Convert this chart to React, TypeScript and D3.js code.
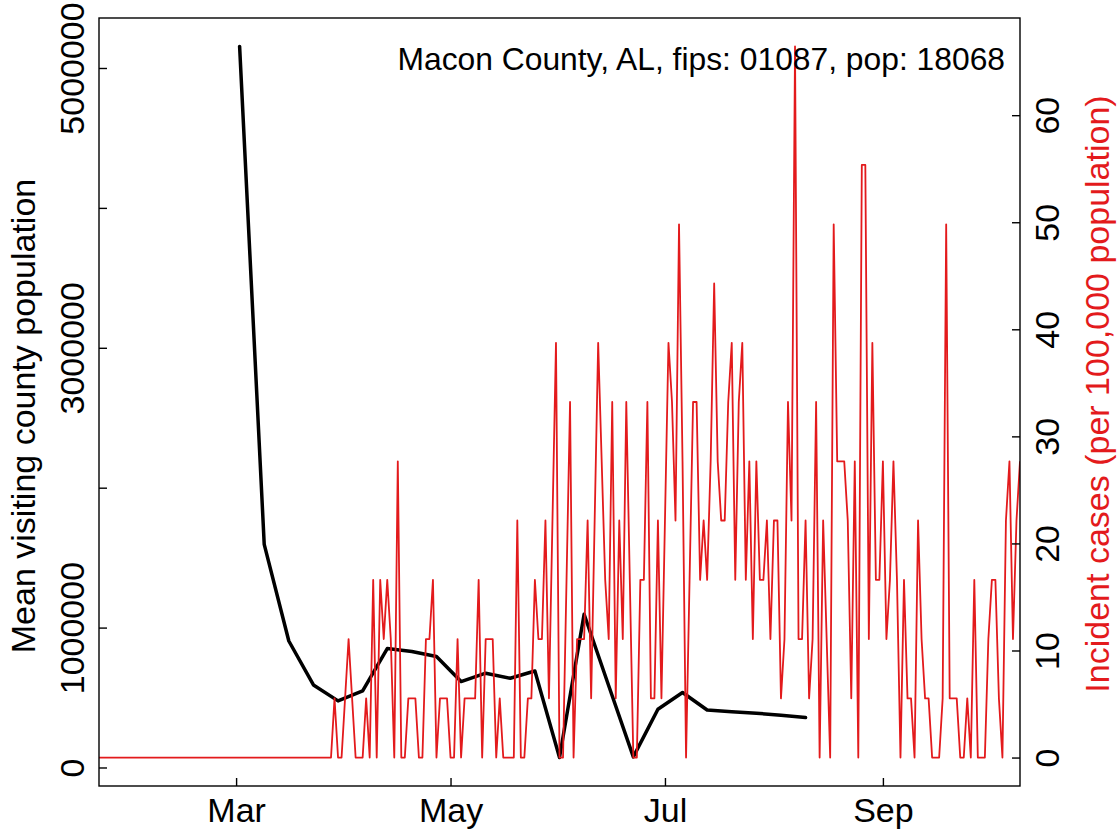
import { useRef, useEffect } from 'react';
import * as d3 from 'd3';

const W = 1119;
const H = 830;
const FONT = "'Liberation Sans', Arial, Helvetica, sans-serif";
const RED = '#e31a1c';

const countyLabel = 'Macon County, AL, fips: 01087, pop: 18068';
const leftTitle = 'Mean visiting county population';
const rightTitle = 'Incident cases (per 100,000 population)';

// weekly mean visiting county population, first week starts Mon 2 Mar 2020
const visitStart = '2020-03-02';
const visitPop = [
  5154000, 1595000, 904000, 590000, 476000, 547000, 850000, 829000, 793000, 614000,
  674000, 638000, 690000, 71000, 1095000, 584000, 76000, 416000, 536000, 411000,
  399000, 388000, 374000, 357000,
];

// daily incident cases per 100k, starting 22 Jan 2020
const caseStart = '2020-01-22';
const incidence = [
  0, 0, 0, 0, 0, 0, 0, 0, 0, 0,
  0, 0, 0, 0, 0, 0, 0, 0, 0, 0,
  0, 0, 0, 0, 0, 0, 0, 0, 0, 0,
  0, 0, 0, 0, 0, 0, 0, 0, 0, 0,
  0, 0, 0, 0, 0, 0, 0, 0, 0, 0,
  0, 0, 0, 0, 0, 0, 0, 0, 0, 0,
  0, 0, 0, 0, 0, 0, 0,
  5.53, 0, 0, 5.53, 11.07, 5.53, 0, 0, 0, 5.53,
  0, 16.6, 0, 16.6, 11.07, 16.6, 11.07, 0, 27.67, 0,
  0, 5.53, 5.53, 5.53, 0, 0, 11.07, 11.07, 16.6, 0,
  5.53, 5.53, 5.53, 0, 0, 11.07, 0, 5.53, 5.53, 5.53,
  5.53, 16.6, 0, 11.07, 11.07, 11.07, 0, 5.53, 0, 0,
  0, 0, 22.14, 0, 0, 5.53, 5.53, 16.6, 11.07, 11.07,
  22.14, 5.53, 22.14, 38.74, 0, 0, 16.6, 33.21, 0, 11.07,
  11.07, 11.07, 22.14, 5.53, 22.14, 38.74, 27.67, 16.6, 11.07, 33.21,
  5.53, 22.14, 11.07, 33.21, 16.6, 0, 0, 16.6, 16.6, 33.21,
  5.53, 5.53, 22.14, 5.53, 22.14, 38.74, 33.21, 22.14, 49.81, 27.67,
  0, 16.6, 33.21, 33.21, 16.6, 22.14, 16.6, 27.67, 44.28, 27.67,
  22.14, 22.14, 33.21, 38.74, 16.6, 33.21, 38.74, 16.6, 27.67, 11.07,
  27.67, 16.6, 16.6, 22.14, 11.07, 22.14, 22.14, 5.53, 11.07, 33.21,
  22.14, 66.42, 11.07, 11.07, 22.14, 5.53, 11.07, 33.21, 0, 22.14,
  11.07, 0, 49.81, 27.67, 27.67, 27.67, 22.14, 5.53, 27.67, 0,
  55.35, 55.35, 11.07, 38.74, 16.6, 16.6, 27.67, 11.07, 16.6, 27.67,
  16.6, 0, 16.6, 5.53, 5.53, 0, 22.14, 11.07, 5.53, 5.53,
  0, 0, 0, 5.53, 49.81, 5.53, 5.53, 5.53, 0, 0,
  5.53, 0, 16.6, 0, 0, 0, 11.07, 16.6, 16.6, 5.53,
  0, 22.14, 27.67, 11.07, 22.14, 27.67,
];

const leftTicks = [0, 1000000, 2000000, 3000000, 4000000, 5000000];
const leftTickLabels = ['0', '1000000', '', '3000000', '', '5000000'];
const rightTicks = [0, 10, 20, 30, 40, 50, 60];
const monthTicks = ['2020-03-01', '2020-05-01', '2020-07-01', '2020-09-01'];
const monthLabels = ['Mar', 'May', 'Jul', 'Sep'];

// R-style 4% axis padding
const padExtent = ([a, b]: [number, number]): [number, number] => {
  const r = b - a;
  return [a - 0.04 * r, b + 0.04 * r];
};

export default function App() {
  const svgRef = useRef<SVGSVGElement>(null);

  useEffect(() => {
    if (!svgRef.current) return;
    const svg = d3.select(svgRef.current);
    svg.selectAll('*').remove();

    const margin = { top: 18, right: 99, bottom: 44, left: 99 };
    const w = W - margin.left - margin.right;
    const h = H - margin.top - margin.bottom;
    const parse = d3.utcParse('%Y-%m-%d');

    const caseData = incidence.map((v, i) => ({ date: d3.utcDay.offset(parse(caseStart)!, i), v }));
    const visitData = visitPop.map((v, i) => ({ date: d3.utcWeek.offset(parse(visitStart)!, i), v }));

    const x = d3
      .scaleUtc()
      .domain(d3.extent(caseData, (d) => d.date) as [Date, Date])
      .range([0, w]);
    const yL = d3
      .scaleLinear()
      .domain(padExtent(d3.extent(visitPop) as [number, number]))
      .range([h, 0]);
    const yR = d3
      .scaleLinear()
      .domain(padExtent(d3.extent(incidence) as [number, number]))
      .range([h, 0]);

    const g = svg.append('g').attr('transform', `translate(${margin.left},${margin.top})`);

    g.append('clipPath').attr('id', 'plot-clip').append('rect').attr('width', w).attr('height', h);

    const plot = g.append('g').attr('clip-path', 'url(#plot-clip)');

    plot
      .append('path')
      .datum(visitData)
      .attr('fill', 'none')
      .attr('stroke', '#000')
      .attr('stroke-width', 3.5)
      .attr('stroke-linejoin', 'round')
      .attr('stroke-linecap', 'round')
      .attr(
        'd',
        d3
          .line<{ date: Date; v: number }>()
          .x((d) => x(d.date))
          .y((d) => yL(d.v))
      );

    plot
      .append('path')
      .datum(caseData)
      .attr('fill', 'none')
      .attr('stroke', RED)
      .attr('stroke-width', 1.8)
      .attr('stroke-linejoin', 'round')
      .attr(
        'd',
        d3
          .line<{ date: Date; v: number }>()
          .x((d) => x(d.date))
          .y((d) => yR(d.v))
      );

    g.append('rect')
      .attr('width', w)
      .attr('height', h)
      .attr('fill', 'none')
      .attr('stroke', '#000')
      .attr('stroke-width', 1.4);

    const styleAxis = (sel: d3.Selection<SVGGElement, unknown, null, undefined>) => {
      sel.select('.domain').remove();
      sel.selectAll('line').attr('stroke', '#000').attr('stroke-width', 1.4);
      sel.selectAll('text').attr('fill', '#000').style('font-size', '34px').style('font-family', FONT);
    };

    g.append('g')
      .attr('transform', `translate(0,${h})`)
      .call(
        d3
          .axisBottom(x)
          .tickValues(monthTicks.map((s) => parse(s)!))
          .tickSize(-8)
          .tickFormat((_, i) => monthLabels[i])
      )
      .call(styleAxis)
      .call((a) => a.selectAll('text').attr('y', 36).attr('dy', null));

    g.append('g')
      .call(
        d3
          .axisLeft(yL)
          .tickValues(leftTicks)
          .tickSize(-8)
          .tickFormat((_, i) => leftTickLabels[i])
      )
      .call(styleAxis)
      .call((a) =>
        a
          .selectAll('text')
          .attr('x', null)
          .attr('dy', null)
          .attr('text-anchor', 'middle')
          .attr('transform', 'translate(-15,0) rotate(-90)')
      );

    g.append('g')
      .attr('transform', `translate(${w},0)`)
      .call(d3.axisRight(yR).tickValues(rightTicks).tickSize(-8).tickFormat(d3.format('d')))
      .call(styleAxis)
      .call((a) =>
        a
          .selectAll('text')
          .attr('x', null)
          .attr('dy', null)
          .attr('text-anchor', 'middle')
          .attr('transform', 'translate(39,0) rotate(-90)')
      );

    svg
      .append('text')
      .attr('transform', `translate(35,${margin.top + h / 2 + 14}) rotate(-90)`)
      .attr('text-anchor', 'middle')
      .style('font-size', '34px')
      .style('font-family', FONT)
      .attr('fill', '#000')
      .text(leftTitle);

    svg
      .append('text')
      .attr('transform', `translate(1109,${margin.top + h / 2 - 8}) rotate(-90)`)
      .attr('text-anchor', 'middle')
      .style('font-size', '34px')
      .style('font-family', FONT)
      .attr('fill', RED)
      .text(rightTitle);

    svg
      .append('text')
      .attr('x', 1005)
      .attr('y', 70)
      .attr('text-anchor', 'end')
      .style('font-size', '31.8px')
      .style('font-family', FONT)
      .attr('fill', '#000')
      .text(countyLabel);
  }, []);

  return (
    <svg
      ref={svgRef}
      width={W}
      height={H}
      style={{ position: 'absolute', left: 0, top: 0, background: '#fff' }}
    />
  );
}
